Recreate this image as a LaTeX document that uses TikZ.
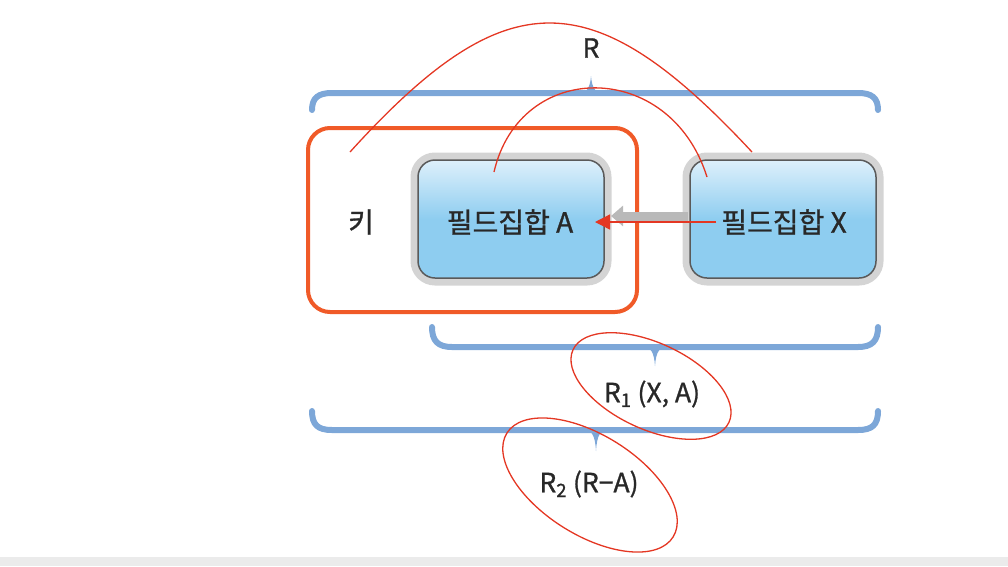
\documentclass[tikz,border=0pt]{standalone}
\usepackage{fontspec}
\setmainfont{Noto Sans CJK KR}
\newfontfamily\lblfont{Noto Sans CJK KR}[FakeBold=1.0]
\usetikzlibrary{arrows.meta}
\definecolor{bracecol}{RGB}{125,167,216}
\definecolor{keyred}{RGB}{240,90,40}
\definecolor{markred}{RGB}{228,55,35}
\definecolor{boxblue}{RGB}{142,205,240}
\definecolor{boxlight}{RGB}{222,240,251}
\definecolor{halocol}{RGB}{212,212,212}
\definecolor{bordercol}{RGB}{90,90,90}
\definecolor{bandgray}{RGB}{235,235,235}
\definecolor{txt}{RGB}{40,40,40}
\begin{document}
\begin{tikzpicture}[x=1pt,y=-1pt,
  fieldbox/.style={draw=bordercol, line width=1.5pt, rounded corners=17pt,
    top color=boxlight, bottom color=boxblue, middle color=boxblue,
    minimum width=186pt, minimum height=118pt,
    preaction={draw=halocol, line width=15pt, rounded corners=17pt}},
  lbl/.style={text=txt, font=\lblfont\fontsize{28}{32}\selectfont, inner sep=0pt},
  slbl/.style={text=txt, font=\lblfont\fontsize{26.5}{30}\selectfont, inner sep=0pt},
  bracestyle/.style={draw=bracecol, line width=6pt, line cap=round},
  bracetip/.style={fill=bracecol, draw=none},
  redline/.style={draw=markred, line width=1.3pt},
  keybox/.style={draw=keyred, line width=4pt, rounded corners=22pt}
]
\useasboundingbox (0,0) rectangle (1008,566);
\fill[bandgray] (0,557) rectangle (1008,566);

% key box
\draw[keybox] (308,128) rectangle (637,312);

% field boxes
\node[fieldbox] (A) at (511,219) {};
\node[fieldbox] (X) at (783,219) {};
\node[lbl] (At) at (510,222) {필드집합 A};
\node[lbl] (Xt) at (784,222) {필드집합 X};
\node[lbl] (key) at (361,222) {키};

% gray arrow
\coordinate (gs) at (688,216);
\coordinate (ge) at (611,216);
\draw[draw=gray!55, line width=9pt, -{Triangle[length=12pt,width=20pt]}] (gs) -- (ge);

% red arrow
\coordinate (rs) at (716,222);
\coordinate (re) at (595,222);
\draw[redline, -{Triangle[length=15pt,width=15pt]}] (rs) -- (re);

% braces
\draw[bracestyle] (312,110) .. controls (312,98) and (318,93) .. (332,93) -- (858,93) .. controls (872,93) and (878,98) .. (878,110);
\fill[bracetip] (576,95) .. controls (587,93) and (590,88) .. (591,76) .. controls (592,88) and (595,93) .. (606,95) -- cycle;
\node[slbl] (R) at (591,48) {R};

\draw[bracestyle] (432,327) .. controls (432,341) and (438,347) .. (452,347) -- (858,347) .. controls (872,347) and (878,341) .. (878,327);
\fill[bracetip] (641,345) .. controls (651,347) and (654,352) .. (655,366) .. controls (656,352) and (659,347) .. (669,345) -- cycle;
\node[slbl] (R1) at (652,394) {R\textsubscript{1} (X, A)};

\draw[bracestyle] (312,411) .. controls (312,425) and (318,430) .. (332,430) -- (858,430) .. controls (872,430) and (878,425) .. (878,411);
\fill[bracetip] (582,428) .. controls (592,430) and (595,435) .. (596,451) .. controls (597,435) and (600,430) .. (610,428) -- cycle;
\node[slbl] (R2) at (589,484) {R\textsubscript{2} (R−A)};

% red arcs
\coordinate (b1) at (350,152);
\coordinate (b2) at (752,152);
\draw[redline] (b1) .. controls (506,-20) and (592,-20) .. (b2);
\coordinate (s1) at (494,172);
\coordinate (s2) at (707,177);
\draw[redline] (s1) .. controls (520,59) and (670,59) .. (s2);

% red ellipses
\draw[redline, rotate around={-25:(651,386)}] (651,386) ellipse [x radius=86, y radius=43];
\draw[redline, rotate around={-32:(590,485)}] (590,485) ellipse [x radius=98, y radius=50];
\end{tikzpicture}
\end{document}
